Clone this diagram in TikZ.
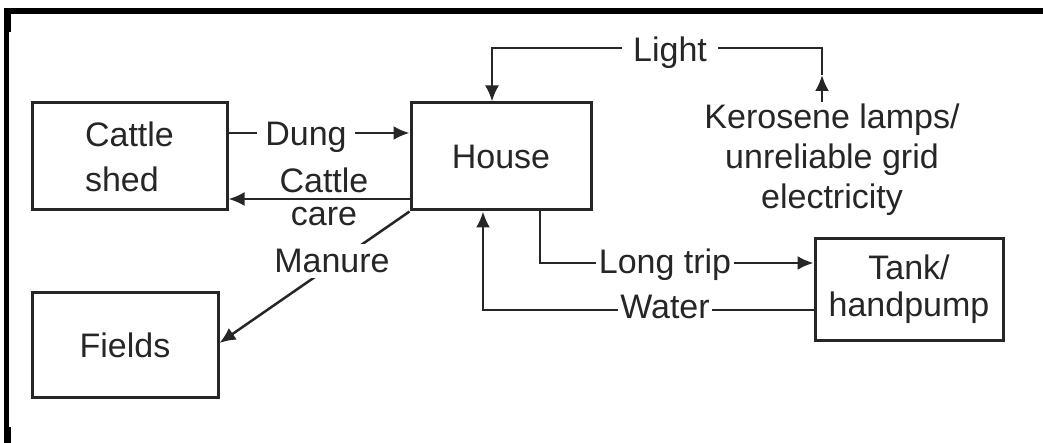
\documentclass[tikz,border=0pt]{standalone}
\usepackage{fontspec}
\setmainfont{Liberation Sans}
\usetikzlibrary{arrows.meta}
\begin{document}
\begin{tikzpicture}[x=1pt,y=-1pt,
  every node/.style={font=\fontsize{34}{40}\selectfont, text=black!85},
  box/.style={draw=black!85, line width=3pt, inner sep=0pt, align=center},
  conn/.style={draw=black!85, line width=2.5pt, -{Latex[length=16pt,width=14pt]}},
  lbl/.style={fill=white, inner sep=3pt}]
\useasboundingbox (0,0) rectangle (1043,443);
% frame
\fill[black] (4,8) rectangle (1043,14);
\fill[black] (4,8) rectangle (9,443);
\fill[black] (4,8) rectangle (11,32);
\fill[black] (4,427) rectangle (11,443);
% boxes
\node[box, minimum width=195pt, minimum height=107pt, align=left, font=\fontsize{34}{45}\selectfont] (shed) at (129.5,156.5) {Cattle\\shed};
\node[box, minimum width=180pt, minimum height=107pt] (house) at (501,156.5) {House};
\node[box, minimum width=186pt, minimum height=104pt] (fields) at (125,345) {Fields};
\node[box, minimum width=188pt, minimum height=101pt, font=\fontsize{34}{37}\selectfont] (tank) at (909,289.5) {Tank/\\handpump};
\node[align=center, inner sep=2pt] (kero) at (832,160) {Kerosene lamps/\\unreliable grid\\electricity};
% coordinates
\coordinate (kc) at (822,48);
\coordinate (kmid) at (822,75);
\coordinate (hc) at (492,48);
\coordinate (d1) at (300,133);
\coordinate (c1) at (300,199);
\coordinate (m1) at (300,343);
\coordinate (l1) at (540,263);
\coordinate (w1) at (483,310);
% connectors
\draw[conn] (kero.north -| kc) -- (kmid);
\draw[conn] (kmid) -- (kc) -- (hc) -- (house.north -| hc);
\draw[conn] (shed.east |- d1) -- (house.west |- d1);
\draw[conn] (house.west |- c1) -- (shed.east |- c1);
\draw[conn] (house.south west) -- (fields.east |- m1);
\draw[conn] (house.south -| l1) -- (l1) -- (tank.west |- l1);
\draw[conn] (tank.west |- w1) -- (w1) -- (house.south -| w1);
% labels
\node[lbl, inner xsep=11pt] (light) at (670,53) {Light};
\node[lbl, inner xsep=8pt] (dung) at (306,137) {Dung};
\node[align=center, inner sep=0pt, font=\fontsize{34}{33}\selectfont] (care) at (324,197) {Cattle\\care};
\node[lbl, inner sep=5pt] (manure) at (332,261) {Manure};
\node[lbl] (longtrip) at (665,265) {Long trip};
\node[lbl, inner xsep=2pt] (water) at (665,307) {Water};
\end{tikzpicture}
\end{document}
